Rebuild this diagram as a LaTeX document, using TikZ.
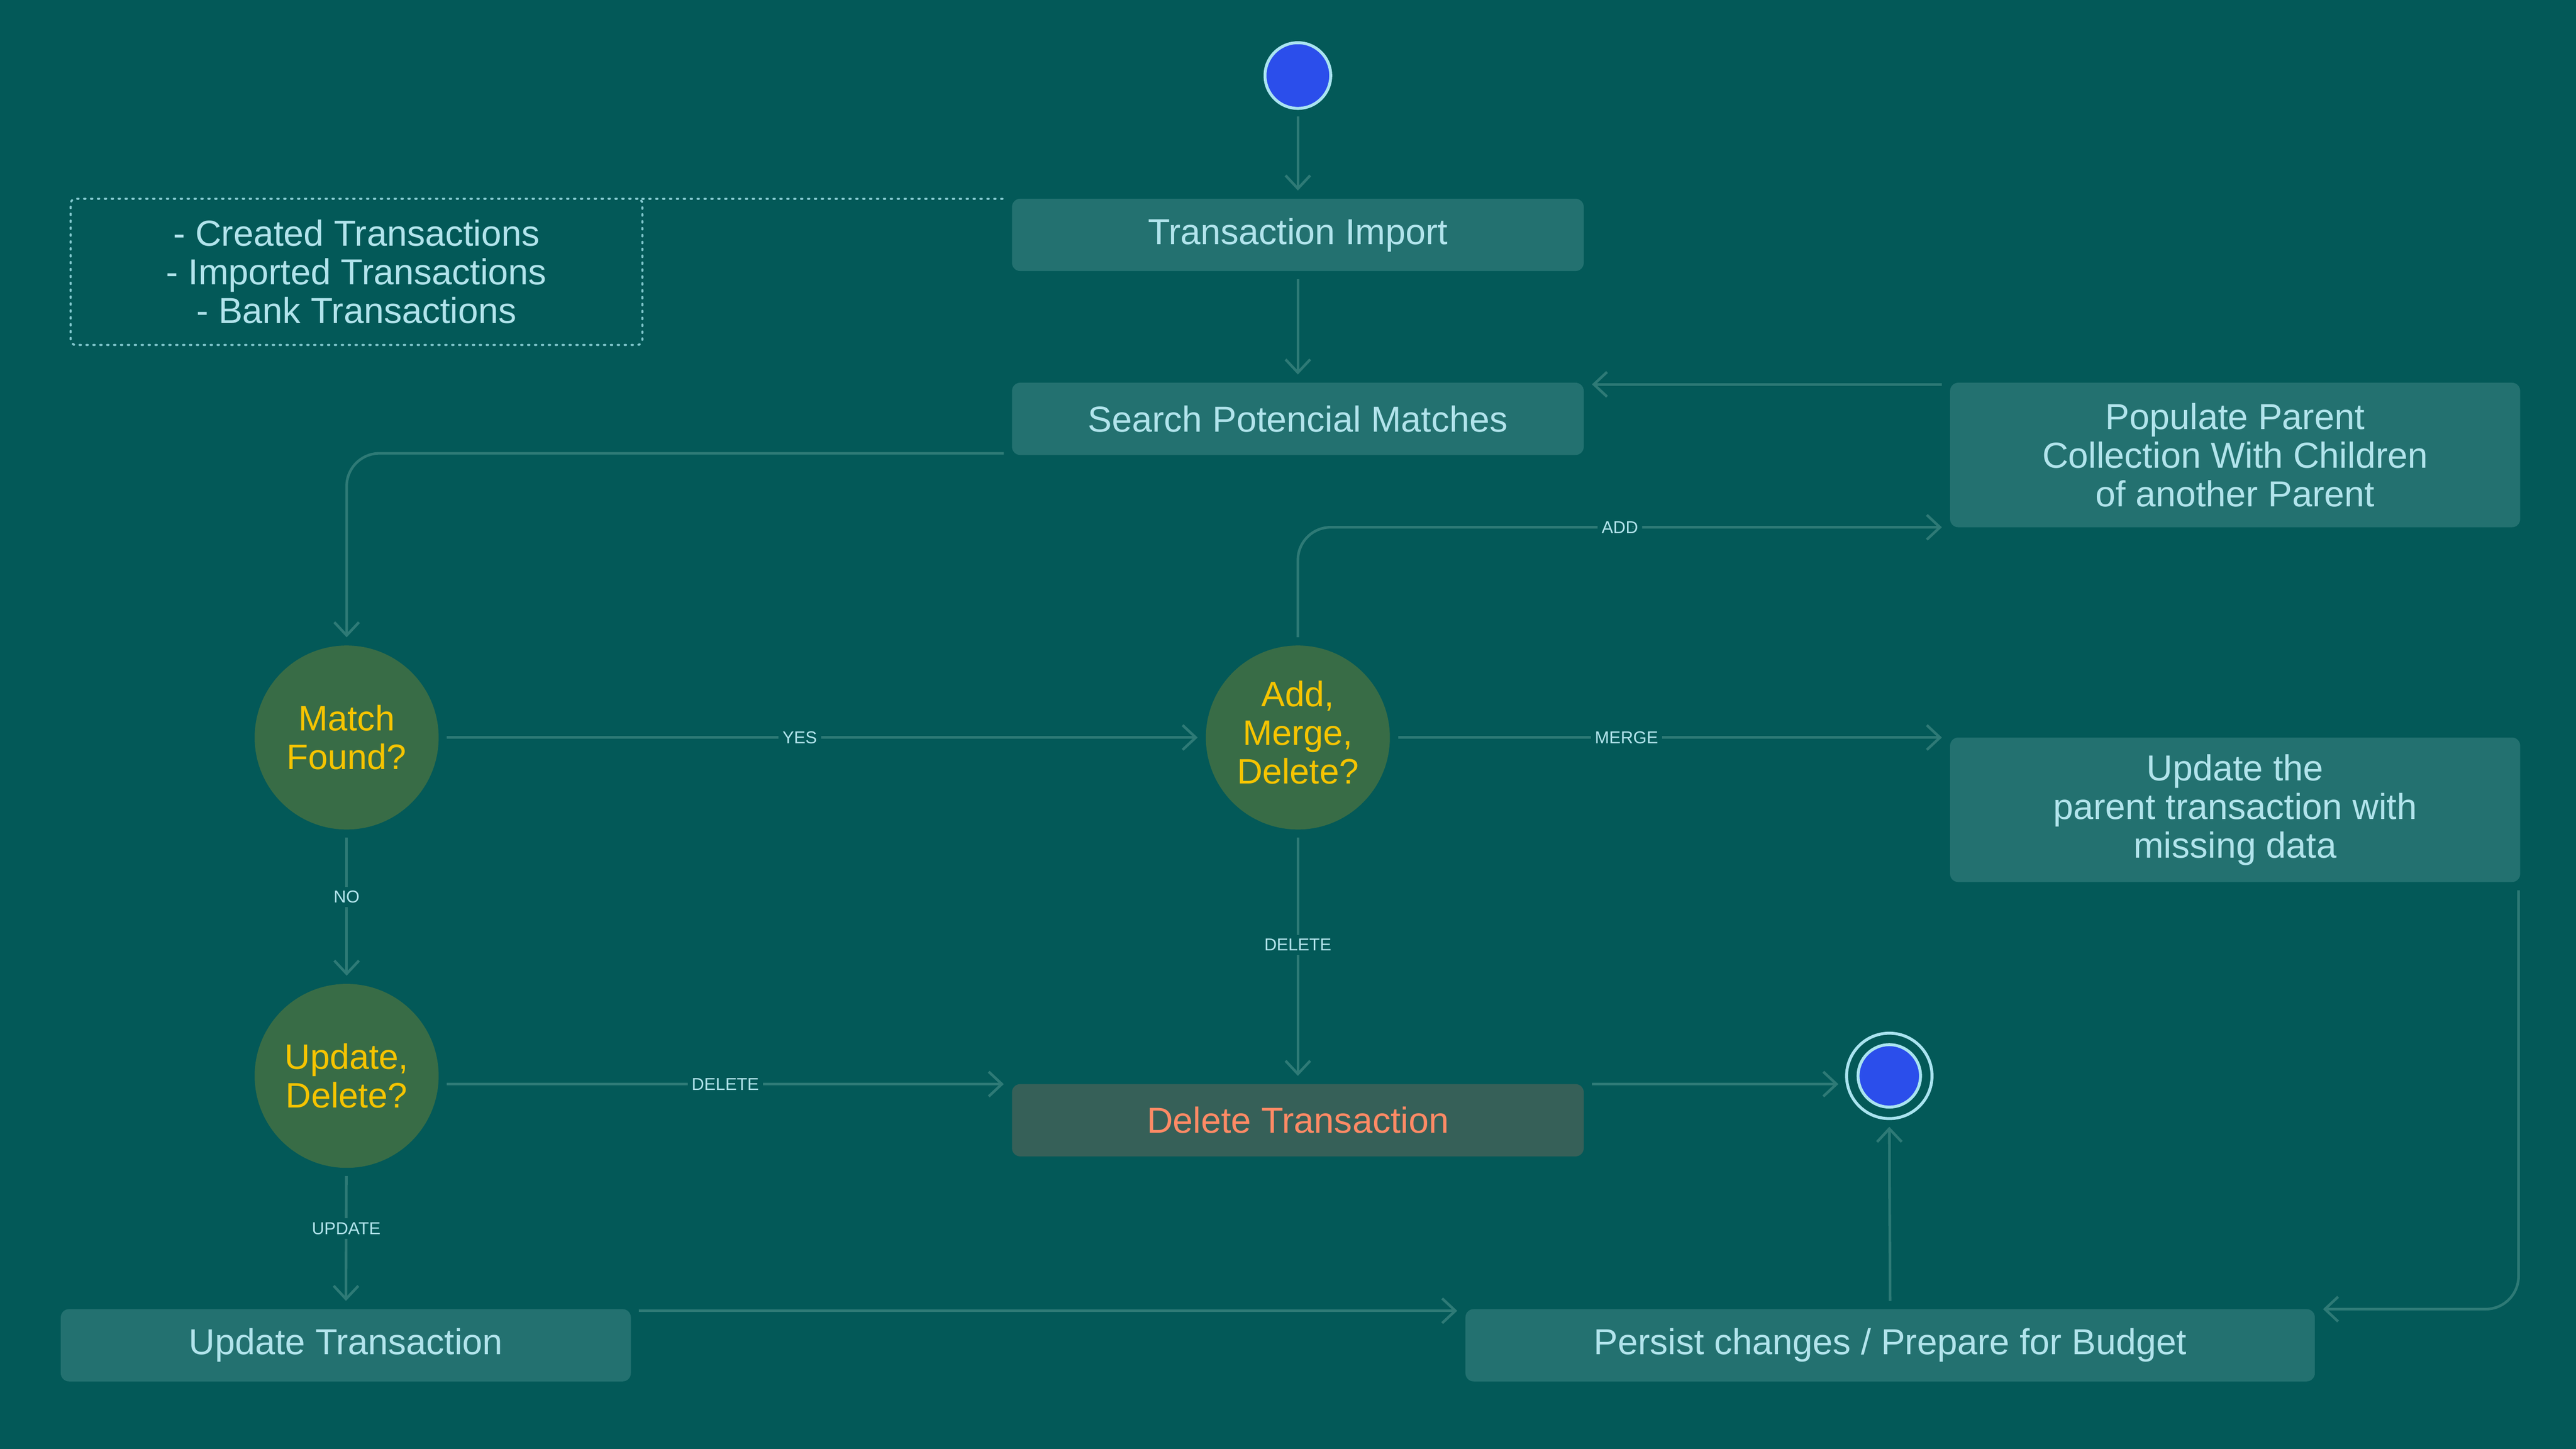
\documentclass[tikz,border=0pt]{standalone}
\usepackage{fontspec}
\setmainfont{Liberation Sans}
\usetikzlibrary{arrows.meta}
\definecolor{bgc}{RGB}{3,89,88}
\definecolor{boxc}{RGB}{35,113,112}
\definecolor{linec}{RGB}{46,122,118}
\definecolor{decc}{RGB}{56,108,70}
\definecolor{yel}{RGB}{246,196,0}
\definecolor{lt}{RGB}{178,228,236}
\definecolor{delbox}{RGB}{54,96,88}
\definecolor{deltext}{RGB}{255,138,101}
\definecolor{bluec}{RGB}{43,78,235}
\definecolor{ringc}{RGB}{170,228,240}
\definecolor{dotc}{RGB}{130,200,206}
\tikzset{
  stepbox/.style={draw=none, fill=boxc, rounded corners=5pt, text=lt, align=center,
    font=\fontsize{22}{23.5}\selectfont, inner sep=0pt, outer sep=5pt, minimum height=44pt},
  decision/.style={circle, fill=decc, text=yel, align=center, minimum size=112pt,
    inner sep=0pt, outer sep=5pt, font=\fontsize{21.5}{23.5}\selectfont},
  conn/.style={draw=linec, line width=1.6pt, -{Straight Barb[length=8pt,width=15pt]}},
  lbl/.style={fill=bgc, text=lt, font=\fontsize{10.5}{12}\selectfont, inner sep=2.5pt}
}
\begin{document}
\begin{tikzpicture}[x=1pt,y=-1pt]
\fill[bgc] (0,0) rectangle (1568,882);
\useasboundingbox (0,0) rectangle (1568,882);

% nodes
\node[circle, fill=bluec, draw=ringc, line width=1.8pt, minimum size=40pt, inner sep=0pt, outer sep=5pt] (start) at (790,46) {};
\node[stepbox, minimum width=348pt] (imp) at (790,143) {Transaction Import};
\node[stepbox, minimum width=348pt] (search) at (790,255) {Search Potencial Matches};
\node[draw=dotc, line width=1.3pt, dash pattern=on 0.8pt off 3.4pt, line cap=round, rounded corners=3pt,
  minimum width=348pt, minimum height=89pt, text=lt, align=center, inner sep=0pt, outer sep=0pt,
  font=\fontsize{22}{23.5}\selectfont] (notes) at (217,165.5) {- Created Transactions\\- Imported Transactions\\- Bank Transactions};
\node[stepbox, minimum width=347pt, minimum height=88pt] (populate) at (1360.5,277) {Populate Parent\\Collection With Children\\of another Parent};
\node[stepbox, minimum width=347pt, minimum height=88pt] (updparent) at (1360.5,493) {Update the\\parent transaction with\\missing data};
\node[decision] (match) at (211,449) {Match\\Found?};
\node[decision] (amd) at (790,449) {\raisebox{2.5pt}{\begin{tabular}{@{}c@{}}Add,\\Merge,\\Delete?\end{tabular}}};
\node[decision] (ud) at (211,655) {Update,\\Delete?};
\node[stepbox, fill=delbox, text=deltext, minimum width=348pt] (del) at (790,682) {Delete Transaction};
\node[circle, draw=ringc, line width=1.8pt, minimum size=52pt, inner sep=0pt, outer sep=5pt] (endst) at (1150,655) {};
\node[circle, fill=bluec, draw=ringc, line width=1.8pt, minimum size=38pt, inner sep=0pt] (endin) at (1150,655) {};
\node[stepbox, minimum width=517pt] (persist) at (1150.5,819) {Persist changes / Prepare for Budget};
\node[stepbox, minimum width=347pt] (updtx) at (210.5,819) {Update Transaction};

% note association
\draw[draw=dotc, line width=1.3pt, dash pattern=on 0.8pt off 3.4pt, line cap=round] (notes.north east) -- (imp.west |- notes.north);

% connectors
\draw[conn] (start) -- (imp);
\draw[conn] (imp) -- (search);
\draw[conn] (populate.west |- 0,234) -- (search.east |- 0,234);
\draw[conn, rounded corners=20pt] (search.west |- 0,276) -| (match.north);
\draw[conn] (match) -- node[lbl, pos=0.47] {YES} (amd);
\draw[conn] (match) -- node[lbl, pos=0.43] {NO} (ud);
\draw[conn] (ud.east |- 0,660) -- node[lbl, pos=0.5] {DELETE} (del.west |- 0,660);
\draw[conn, rounded corners=20pt] (amd.north) |- node[lbl, pos=0.75] {ADD} (populate.west |- 0,321);
\draw[conn] (amd) -- node[lbl, pos=0.42] {MERGE} (updparent.west |- amd);
\draw[conn] (amd) -- node[lbl, pos=0.45] {DELETE} (del);
\draw[conn] (del.east |- 0,660) -- (endst.west |- 0,660);
\draw[conn] (persist.north) -- (endst.south);
\draw[conn, rounded corners=20pt] ([xshift=-6pt]updparent.south east) |- (persist.east |- 0,797);
\draw[conn] (ud) -- node[lbl, pos=0.42] {UPDATE} (updtx);
\draw[conn] (updtx.east |- 0,798) -- (persist.west |- 0,798);
\end{tikzpicture}
\end{document}
